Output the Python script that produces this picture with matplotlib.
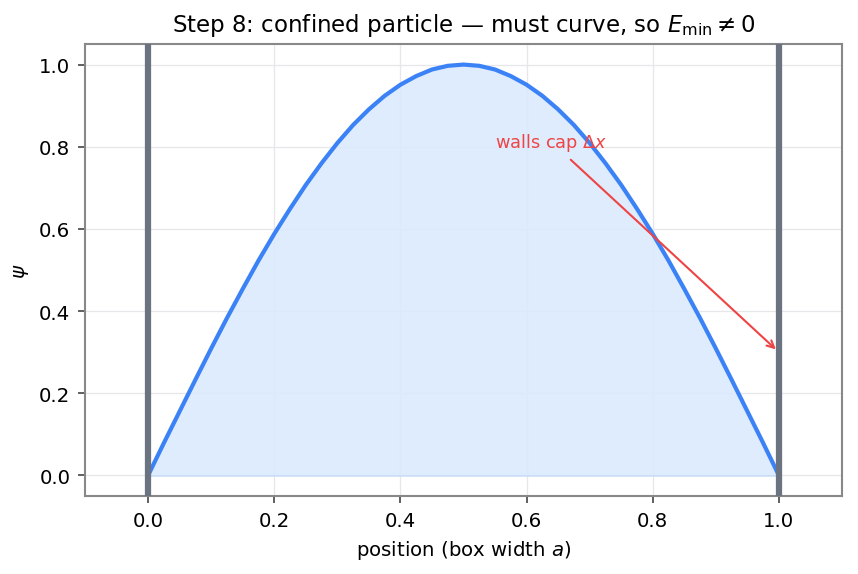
import numpy as np
import matplotlib.pyplot as plt

# position across the box (units of box width a) and the ground-state wavefunction
x_pos = np.linspace(0, 1, 41)
psi_half = [0.0, 0.079, 0.156, 0.233, 0.309, 0.383, 0.454, 0.523, 0.588, 0.649,
            0.707, 0.760, 0.809, 0.853, 0.891, 0.924, 0.951, 0.972, 0.988, 0.997, 1.0]
psi = psi_half + psi_half[-2::-1]

wall_positions = [0.0, 1.0]
arrow_text_xy = (0.55, 0.80)
arrow_tip_xy = (1.0, 0.30)

BLUE = '#3b82f6'
FILL = '#dbeafe'
WALL = '#6b7280'
RED = '#ef4444'

fig, ax = plt.subplots(figsize=(5.72, 3.833), dpi=150)
fig.subplots_adjust(left=85 / 858, right=842 / 858, top=1 - 45 / 575, bottom=1 - 497 / 575)

ax.fill_between(x_pos, 0, psi, color=FILL, alpha=0.9, lw=0.8, edgecolor='#c7dcf7', zorder=1)
ax.plot(x_pos, psi, color=BLUE, lw=2, zorder=3)
for w in wall_positions:
    ax.axvline(w, color=WALL, lw=3, zorder=4)

ax.annotate('walls cap $\\Delta x$', xy=arrow_tip_xy, xytext=arrow_text_xy,
            color=RED, fontsize=8.5,
            arrowprops=dict(arrowstyle='->', color=RED, lw=1), zorder=5)

ax.set_xlim(-0.1, 1.1)
ax.set_ylim(-0.05, 1.05)
ax.set_xlabel('position (box width $a$)', fontsize=9.5)
ax.set_ylabel('$\\psi$', fontsize=9.5)
ax.set_title('Step 8: confined particle — must curve, so $E_{\\min} \\neq 0$', fontsize=11)
ax.grid(True, color='#e5e7eb', lw=0.6, zorder=0)
ax.set_axisbelow(True)
ax.tick_params(labelsize=9.5, color='#444444', length=3.5)
for s in ax.spines.values():
    s.set_color('#888888')
    s.set_linewidth(1.0)

plt.savefig('out.png', dpi=150)
